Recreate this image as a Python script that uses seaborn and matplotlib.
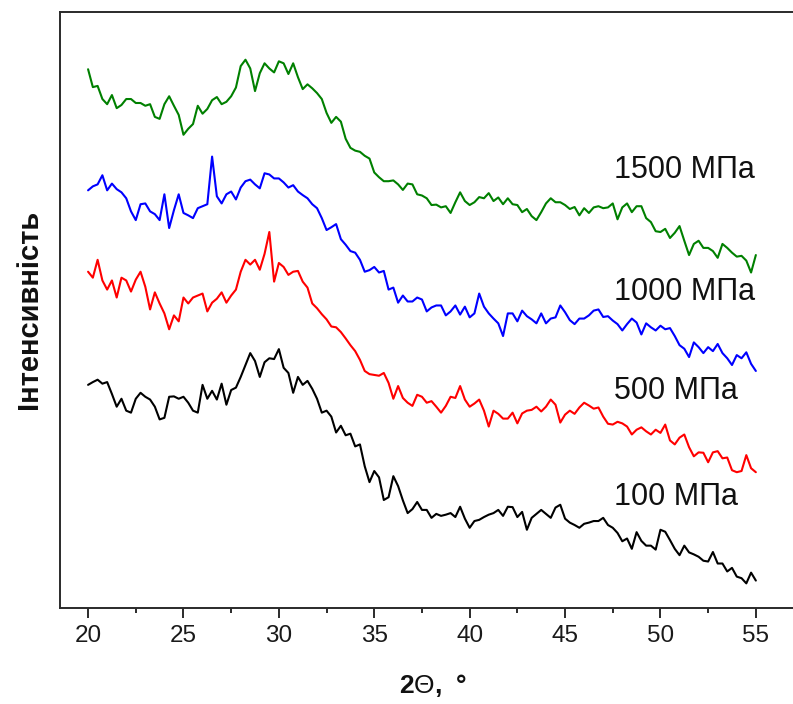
import numpy as np
import pandas as pd
import matplotlib
matplotlib.use("Agg")
import matplotlib.pyplot as plt
from matplotlib.ticker import MultipleLocator
import seaborn as sns

# XRD patterns, intensity in arbitrary units, step 0.25 deg from 20 to 55
# (each row = one degree: x.00, x.25, x.50, x.75)
i1500 = [1357, 1312, 1315, 1282, 1269, 1292, 1259, 1267, 1282, 1282, 1272, 1272,
         1265, 1269, 1237, 1232, 1269, 1289, 1265, 1242, 1192, 1207, 1219, 1265,
         1245, 1257, 1279, 1287, 1269, 1275, 1289, 1311, 1365, 1381, 1359, 1302,
         1347, 1372, 1359, 1349, 1377, 1372, 1345, 1372, 1337, 1307, 1319, 1309,
         1297, 1282, 1247, 1222, 1237, 1225, 1182, 1159, 1152, 1149, 1139, 1132,
         1097, 1085, 1075, 1075, 1077, 1067, 1053, 1069, 1067, 1042, 1039, 1032,
         1015, 1016, 1009, 1012, 995, 1022, 1047, 1025, 1015, 1022, 1035, 1032,
         1045, 1025, 1034, 1017, 1032, 1017, 1015, 997, 1005, 987, 977, 997,
         1019, 1032, 1022, 1022, 1015, 1005, 1010, 989, 1007, 995, 1009, 1012,
         1007, 1009, 1019, 979, 1009, 1019, 997, 1012, 1012, 982, 972, 949,
         947, 955, 932, 945, 962, 925, 889, 917, 925, 907, 907, 899,
         882, 917, 907, 895, 885, 887, 875, 845, 889]

i1000 = [1052, 1062, 1067, 1090, 1052, 1069, 1055, 1047, 1032, 999, 977, 1017,
         1019, 999, 992, 977, 1042, 957, 1002, 1042, 995, 989, 982, 1007,
         1012, 1017, 1137, 1037, 1019, 1042, 1049, 1029, 1059, 1075, 1079, 1067,
         1057, 1095, 1092, 1082, 1082, 1072, 1059, 1065, 1049, 1040, 1032, 1017,
         1007, 982, 952, 959, 967, 929, 915, 899, 895, 877, 847, 851,
         859, 845, 849, 802, 807, 769, 787, 772, 772, 782, 777, 747,
         757, 762, 762, 737, 747, 762, 739, 759, 732, 742, 792, 759,
         742, 729, 717, 685, 742, 742, 722, 749, 735, 727, 717, 742,
         717, 729, 732, 762, 745, 725, 715, 729, 729, 737, 749, 752,
         733, 735, 724, 715, 699, 715, 729, 719, 689, 717, 707, 699,
         711, 702, 705, 685, 662, 653, 632, 669, 657, 642, 657, 647,
         665, 642, 629, 612, 637, 629, 644, 615, 597]

i500 = [847, 832, 877, 825, 802, 825, 782, 832, 825, 797, 827, 847,
        809, 752, 795, 767, 742, 702, 737, 722, 782, 767, 782, 787,
        792, 747, 769, 779, 795, 769, 787, 802, 847, 877, 865, 877,
        852, 892, 947, 822, 869, 859, 839, 847, 849, 822, 807, 767,
        755, 740, 727, 709, 707, 695, 679, 662, 647, 625, 597, 589,
        587, 585, 592, 567, 527, 559, 529, 517, 509, 537, 532, 517,
        521, 507, 492, 509, 532, 529, 559, 525, 507, 515, 525, 497,
        457, 497, 489, 477, 477, 492, 465, 490, 497, 499, 507, 495,
        507, 525, 512, 467, 487, 497, 489, 505, 517, 510, 502, 505,
        482, 464, 462, 469, 465, 457, 437, 449, 455, 445, 437, 449,
        441, 462, 422, 412, 429, 437, 405, 382, 392, 391, 367, 392,
        395, 377, 379, 347, 342, 345, 385, 352, 342]

i100 = [562, 569, 575, 565, 569, 539, 507, 527, 497, 492, 527, 542,
        532, 525, 507, 475, 479, 532, 533, 527, 532, 517, 497, 492,
        562, 527, 547, 525, 565, 512, 549, 555, 582, 612, 642, 622,
        582, 619, 629, 627, 652, 605, 592, 542, 582, 562, 572, 552,
        527, 492, 497, 482, 442, 459, 435, 439, 407, 412, 357, 317,
        345, 329, 272, 279, 332, 307, 271, 239, 249, 267, 247, 247,
        227, 237, 232, 235, 239, 229, 255, 225, 202, 219, 222, 229,
        235, 239, 247, 232, 255, 254, 229, 242, 197, 227, 237, 247,
        237, 227, 253, 260, 225, 215, 209, 202, 212, 215, 219, 219,
        227, 209, 202, 189, 168, 175, 149, 191, 169, 157, 157, 147,
        197, 192, 171, 149, 133, 157, 140, 135, 129, 119, 117, 141,
        112, 112, 92, 101, 79, 75, 62, 89, 69]

labels = ["100 МПа", "500 МПа", "1000 МПа", "1500 МПа"]
colors = ["black", "#ff0000", "#0000ff", "#008000"]
label_y = [280, 546, 796, 1102]

series = [i100, i500, i1000, i1500]
frames = []
for lab, vals in zip(labels, series):
    two_theta = np.linspace(20, 55, len(vals))
    frames.append(pd.DataFrame({"two_theta": two_theta, "intensity": vals, "pressure": lab}))
df = pd.concat(frames, ignore_index=True)

sns.set_style("ticks")
plt.rcParams["font.family"] = ["Liberation Sans", "DejaVu Sans"]
plt.rcParams["mathtext.fontset"] = "custom"
plt.rcParams["mathtext.rm"] = "Liberation Sans"
plt.rcParams["mathtext.bf"] = "Liberation Sans:bold"

fig = plt.figure(figsize=(7.93, 7.04), dpi=100)
ax = fig.add_axes([0.0757, 0.1364, 0.94, 0.847])

sns.lineplot(data=df, x="two_theta", y="intensity", hue="pressure",
             palette=dict(zip(labels, colors)), estimator=None, sort=False,
             linewidth=1.5, legend=False, ax=ax)

for lab, yy in zip(labels, label_y):
    ax.text(47.55, yy, lab, fontsize=22, color="#111111", va="center", ha="left")

ax.set_xlim(18.53, 57.6)
ax.set_ylim(0, 1502)
ax.xaxis.set_major_locator(MultipleLocator(5))
ax.xaxis.set_minor_locator(MultipleLocator(2.5))
ax.set_yticks([])
ax.tick_params(axis="x", which="major", length=7, width=1.3, labelsize=17.5, pad=5,
               colors="#1a1a1a")
ax.tick_params(axis="x", which="minor", length=3.5, width=1.3, colors="#1a1a1a")
for sp in ax.spines.values():
    sp.set_linewidth(1.4)
    sp.set_color("#2a2a2a")

ax.set_xlabel(r"$\mathbf{2}$Θ$\mathbf{,\ °}$", fontsize=19, labelpad=18, color="#111111")
ax.set_ylabel("Інтенсивність", fontsize=21, fontweight="bold", labelpad=12, color="#111111")

fig.savefig("out.png", dpi=100)
